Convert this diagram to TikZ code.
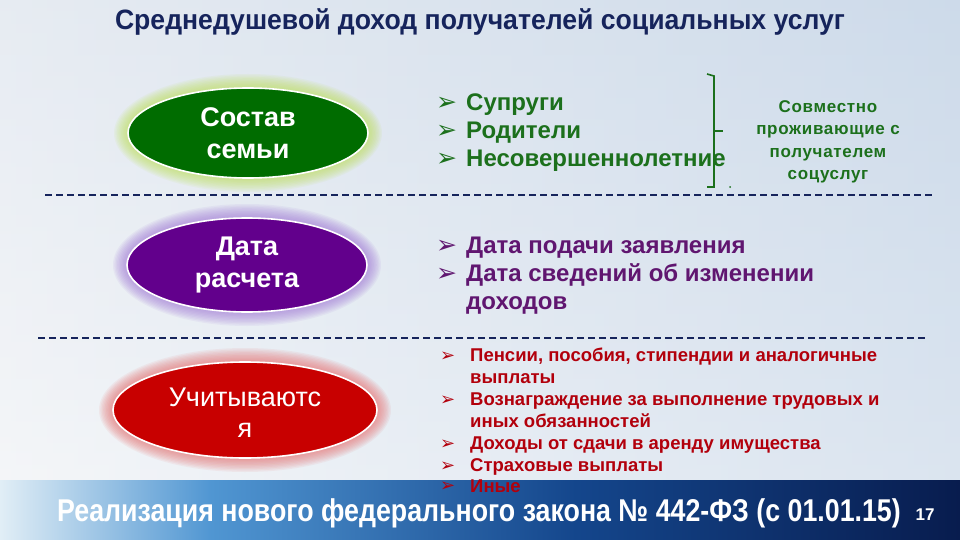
\documentclass[tikz,border=0pt]{standalone}
\usepackage{fontspec}
\setmainfont{Liberation Sans}
\newfontfamily\dej{DejaVu Sans}
\newfontfamily\narrowfont[FakeStretch=0.85]{Liberation Sans}
\newfontfamily\titlefont[FakeStretch=0.95]{Liberation Sans}
\newfontfamily\spacedfont[LetterSpace=4]{Liberation Sans}
\usetikzlibrary{shapes.geometric}
\definecolor{navy}{RGB}{22,36,92}
\definecolor{ovgreen}{RGB}{0,108,0}
\definecolor{txgreen}{RGB}{28,112,28}
\definecolor{glowgreen}{RGB}{190,225,90}
\definecolor{ovpurple}{RGB}{98,0,140}
\definecolor{txpurple}{RGB}{96,22,112}
\definecolor{glowpurple}{RGB}{160,120,215}
\definecolor{ovred}{RGB}{200,0,0}
\definecolor{txred}{RGB}{178,0,12}
\definecolor{glowred}{RGB}{230,110,110}
\definecolor{bgTop}{RGB}{212,222,234}
\definecolor{bgBot}{RGB}{246,247,249}
\definecolor{bgR}{RGB}{200,216,234}
\definecolor{bandA}{RGB}{225,238,246}
\definecolor{bandB}{RGB}{80,150,210}
\definecolor{bandC}{RGB}{20,70,140}
\definecolor{bandD}{RGB}{8,28,78}
\pgfdeclarehorizontalshading{bandshade}{100bp}{color(0bp)=(bandA); color(25bp)=(bandA); color(36bp)=(bandB); color(55bp)=(bandC); color(75bp)=(bandD); color(100bp)=(bandD)}
\tikzset{
  oval/.style={ellipse, draw=white, line width=1.6pt, text=white, align=center, inner sep=0pt},
  sepline/.style={navy, line width=1.7pt, dash pattern=on 7pt off 4pt},
  blt/.style={anchor=base west, inner sep=0pt, text depth=0pt},
  gitem/.style={anchor=base west, inner sep=0pt, text=txgreen, font=\fontsize{24}{28}\selectfont\bfseries},
  pitem/.style={anchor=base west, inner sep=0pt, text=txpurple, font=\fontsize{24}{28}\selectfont\bfseries},
  ritem/.style={anchor=base west, inner sep=0pt, text=txred, font=\fontsize{18.5}{22}\selectfont\bfseries},
}
\newcommand\arrbullet{{\dej ➢}}
\begin{document}
\begin{tikzpicture}[x=1pt,y=-1pt]
\useasboundingbox (0,0) rectangle (960,540);
% background
\shade[top color=bgTop, bottom color=bgBot] (0,0) rectangle (960,540);
\shade[left color=bgBot, right color=bgR, opacity=0.55] (0,0) rectangle (960,540);
% footer band
\shade[shading=bandshade] (0,480) rectangle (960,540);
% title
\node[text=navy, font=\titlefont\fontsize{28}{32}\selectfont\bfseries] (title) at (480,22) {Среднедушевой доход получателей социальных услуг};
% glows
\foreach \k in {1,...,10} {
  \fill[glowgreen, opacity=0.09] (248,133) ellipse [x radius=120+1.4*\k, y radius=45+1.4*\k];
  \fill[glowpurple, opacity=0.09] (247,265) ellipse [x radius=120+1.4*\k, y radius=47+1.4*\k];
  \fill[glowred, opacity=0.09] (245,410) ellipse [x radius=132+1.4*\k, y radius=48+1.4*\k];
}
% ovals
\node[oval, fill=ovgreen, minimum width=240pt, minimum height=90pt, font=\fontsize{27}{32}\selectfont\bfseries] (sostav) at (248,133) {Состав\\семьи};
\node[oval, fill=ovpurple, minimum width=240pt, minimum height=94pt, font=\fontsize{27}{32}\selectfont\bfseries] (data) at (247,265) {Дата\\расчета};
\node[oval, fill=ovred, minimum width=264pt, minimum height=96pt] (uchit) at (245,410) {};
\node[text=white, align=center, font=\fontsize{27}{31}\selectfont] (uchittxt) at (245,413) {Учитываютс\\я};
% separators
\coordinate (s1a) at (45,195); \coordinate (s1b) at (932,195);
\coordinate (s2a) at (38,338); \coordinate (s2b) at (926,338);
\draw[sepline] (s1a) -- (s1b);
\draw[sepline] (s2a) -- (s2b);
% green list
\node[blt, text=txgreen, font=\fontsize{25}{28}\selectfont] (gb1) at (436,111) {\arrbullet};
\node[blt, text=txgreen, font=\fontsize{25}{28}\selectfont] (gb2) at (436,139) {\arrbullet};
\node[blt, text=txgreen, font=\fontsize{25}{28}\selectfont] (gb3) at (436,167) {\arrbullet};
\node[gitem] (g1) at (466,111) {Супруги};
\node[gitem] (g2) at (466,139) {Родители};
\node[gitem] (g3) at (466,167) {Несовершеннолетние};
% bracket
\coordinate (brT) at (707,74);
\coordinate (brTR) at (714,76);
\coordinate (brBR) at (714,187);
\coordinate (brB) at (707,187);
\coordinate (brM) at (714,131);
\coordinate (brMt) at (723,131);
\draw[txgreen, line width=1.6pt] (brT) -- (brTR) -- (brBR) -- (brB);
\draw[txgreen, line width=2pt] (brM) -- (brMt);
\fill[txgreen] (730,187) circle (1pt);
\node[text=txgreen, align=center, font=\spacedfont\fontsize{17}{22.5}\selectfont\bfseries] (sovm) at (828,142) {Совместно\\проживающие с\\получателем\\соцуслуг};
% purple list
\node[blt, text=txpurple, font=\fontsize{25}{28}\selectfont] (pb1) at (436,253) {\arrbullet};
\node[blt, text=txpurple, font=\fontsize{25}{28}\selectfont] (pb2) at (436,281) {\arrbullet};
\node[pitem] (p1) at (466,253) {Дата подачи заявления};
\node[pitem] (p2) at (466,281) {Дата сведений об изменении};
\node[pitem] (p3) at (466,309) {доходов};
% red list
\node[blt, text=txred, font=\fontsize{18}{20}\selectfont] (rb1) at (440,361) {\arrbullet};
\node[blt, text=txred, font=\fontsize{18}{20}\selectfont] (rb2) at (440,405) {\arrbullet};
\node[blt, text=txred, font=\fontsize{18}{20}\selectfont] (rb3) at (440,449) {\arrbullet};
\node[blt, text=txred, font=\fontsize{18}{20}\selectfont] (rb4) at (440,471) {\arrbullet};
\node[blt, text=txred, font=\fontsize{18}{20}\selectfont] (rb5) at (440,491) {\arrbullet};
\node[ritem] (r1) at (470,361) {Пенсии, пособия, стипендии и аналогичные};
\node[ritem] (r1b) at (470,383) {выплаты};
\node[ritem] (r2) at (470,405) {Вознаграждение за выполнение трудовых и};
\node[ritem] (r2b) at (470,427) {иных обязанностей};
\node[ritem] (r3) at (470,449) {Доходы от сдачи в аренду имущества};
\node[ritem] (r4) at (470,471) {Страховые выплаты};
\node[ritem] (r5) at (470,492) {Иные};
% footer
\node[anchor=base, inner sep=0pt, text height=21pt, text depth=6pt, text=white, font=\narrowfont\fontsize{31.5}{34}\selectfont\bfseries] (footer) at (479,521) {Реализация нового федерального закона № 442-ФЗ (с 01.01.15)};
\node[text=white, font=\fontsize{17}{18}\selectfont\bfseries] (page) at (925,515) {17};
\end{tikzpicture}
\end{document}
